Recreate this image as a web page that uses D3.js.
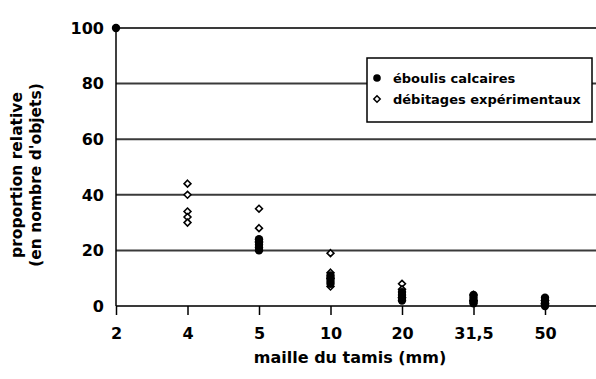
<!DOCTYPE html>
<html>
<head>
<meta charset="utf-8">
<script src="https://cdn.jsdelivr.net/npm/d3@7"></script>
<style>
  body { margin: 0; background: #fff; }
  text { font-family: "DejaVu Sans", sans-serif; font-weight: bold; fill: #000; }
</style>
</head>
<body>
<svg id="chart" width="596" height="379"></svg>
<script>
// Sieve mesh sizes (mm), shown as evenly spaced categories
const meshes = ["2", "4", "5", "10", "20", "31,5", "50"];
const yTicks = [0, 20, 40, 60, 80, 100];

// Scree limestone samples: [mesh, relative proportion %]
const eboulis = [
  ["2", 100],
  ["5", 24], ["5", 23], ["5", 22], ["5", 21], ["5", 20],
  ["10", 11], ["10", 10], ["10", 9], ["10", 8],
  ["20", 5], ["20", 4], ["20", 3], ["20", 2],
  ["31,5", 4], ["31,5", 3], ["31,5", 2], ["31,5", 1.5], ["31,5", 1],
  ["50", 3], ["50", 2], ["50", 1], ["50", 0.5], ["50", 0]
];

// Experimental knapping samples: [mesh, relative proportion %]
const debitages = [
  ["4", 44], ["4", 40], ["4", 34], ["4", 32], ["4", 30],
  ["5", 35], ["5", 28], ["5", 23],
  ["10", 19], ["10", 12], ["10", 10], ["10", 7],
  ["20", 8], ["20", 6], ["20", 3],
  ["31,5", 4], ["31,5", 2],
  ["50", 2], ["50", 1]
];

const legendLabels = ["éboulis calcaires", "débitages expérimentaux"];

const svg = d3.select("#chart");
const plotLeft = 116, plotRight = 596, plotTop = 28, plotBottom = 306;

const x = d3.scalePoint().domain(meshes).range([plotLeft, plotLeft + 71.5 * (meshes.length - 1)]);
const y = d3.scaleLinear().domain([0, 100]).range([plotBottom, plotTop]);

// Horizontal gridlines
svg.append("g").selectAll("line").data(yTicks).join("line")
  .attr("x1", plotLeft).attr("x2", plotRight)
  .attr("y1", d => y(d)).attr("y2", d => y(d))
  .attr("stroke", "#3a3a3a").attr("stroke-width", 2);

// Left axis line
svg.append("line").attr("x1", plotLeft).attr("x2", plotLeft).attr("y1", plotTop).attr("y2", plotBottom)
  .attr("stroke", "#000").attr("stroke-width", 1.5);

// Y axis labels
svg.append("g").selectAll("text").data(yTicks).join("text")
  .attr("x", plotLeft - 12).attr("y", d => y(d)).attr("dy", "0.36em")
  .attr("text-anchor", "end").attr("font-size", 16).text(d => d);

// X axis ticks and labels
const xAxis = d3.axisBottom(x).tickSize(9).tickPadding(13);
const gx = svg.append("g").attr("transform", `translate(0,${plotBottom})`).call(xAxis);
gx.select(".domain").remove();
gx.selectAll(".tick line").attr("stroke", "#000").attr("stroke-width", 1.5);
gx.selectAll(".tick text").attr("font-size", 16).attr("font-family", null);

// Axis titles
svg.append("text").attr("x", 350).attr("y", 363).attr("text-anchor", "middle")
  .attr("font-size", 16).text("maille du tamis (mm)");
const yt = svg.append("text").attr("transform", "translate(0,175) rotate(-90)")
  .attr("text-anchor", "middle").attr("font-size", 15.5);
yt.append("tspan").attr("x", 0).attr("y", 22).text("proportion relative");
yt.append("tspan").attr("x", 0).attr("y", 41).text("(en nombre d'objets)");

// Markers
const diamond = d3.symbol().type(d3.symbolDiamond2).size(30);
svg.append("g").selectAll("path").data(debitages).join("path")
  .attr("transform", d => `translate(${x(d[0])},${y(d[1])})`)
  .attr("d", diamond).attr("fill", "#fff").attr("stroke", "#000").attr("stroke-width", 1.6);
svg.append("g").selectAll("circle").data(eboulis).join("circle")
  .attr("cx", d => x(d[0])).attr("cy", d => y(d[1])).attr("r", 4.2).attr("fill", "#000");

// Legend
const lg = svg.append("g");
lg.append("rect").attr("x", 367).attr("y", 58).attr("width", 225).attr("height", 64)
  .attr("fill", "#fff").attr("stroke", "#000").attr("stroke-width", 1.5);
lg.append("circle").attr("cx", 377).attr("cy", 78).attr("r", 3.8).attr("fill", "#000");
lg.append("path").attr("transform", "translate(377,99)").attr("d", d3.symbol().type(d3.symbolDiamond2).size(26))
  .attr("fill", "#fff").attr("stroke", "#000").attr("stroke-width", 1.5);
lg.selectAll("text").data(legendLabels).join("text")
  .attr("x", 393).attr("y", (d, i) => 78 + i * 21).attr("dy", "0.36em")
  .attr("font-size", 13).text(d => d);
</script>
</body>
</html>
